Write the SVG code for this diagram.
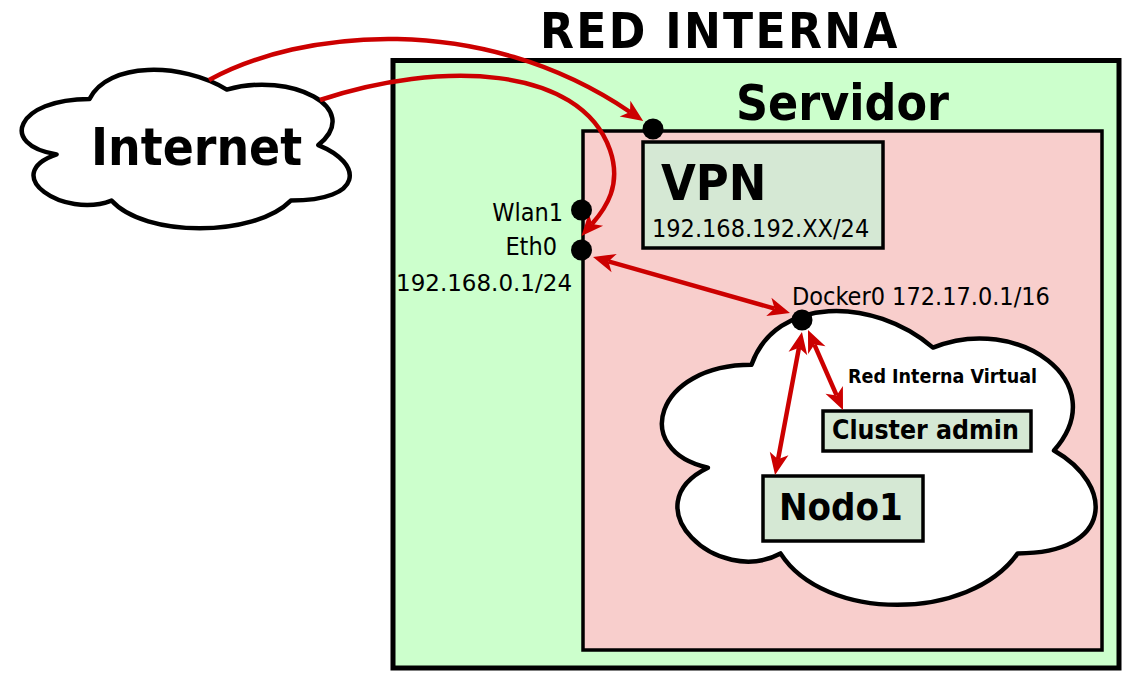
<svg xmlns="http://www.w3.org/2000/svg" width="1125" height="674" viewBox="0 0 1125 674">
<defs>
<style>
.b{font-family:"DejaVu Sans Condensed","DejaVu Sans",sans-serif;font-weight:bold;fill:#000}
.r{font-family:"DejaVu Sans Condensed","DejaVu Sans",sans-serif;fill:#000}
.box{fill:#D5E8D4;stroke:#000;stroke-width:3.5}
.cloud{fill:#fff;stroke:#000;stroke-width:4.5;stroke-linejoin:round}
.con{fill:none;stroke:#CC0000;stroke-width:4.5}
.dot{fill:#000}
</style>
<marker id="ah" viewBox="-1 -11 25 22" markerUnits="userSpaceOnUse" markerWidth="25" markerHeight="22" refX="6" refY="0" orient="auto-start-reverse">
<path d="M0,-9.5 L22,0 L0,9.5 L6,0 Z" fill="#CC0000"/>
</marker>
</defs>
<rect width="1125" height="674" fill="#fff"/>
<g id="servidor">
<rect x="393" y="60.5" width="726" height="607.5" fill="#CCFFCC" stroke="#000" stroke-width="5"/>
<text class="b" x="736" y="120" font-size="49.5">Servidor</text>
</g>
<g id="title">
<text class="b" x="540" y="48" font-size="49" letter-spacing="2.3">RED INTERNA</text>
</g>
<g id="host">
<rect x="583" y="131" width="519" height="519" fill="#F8CECC" stroke="#000" stroke-width="3.5"/>
</g>
<g id="internet">
<path class="cloud" d="M 89.5 98.9 C 16.3 98.9, -2 145.1, 56.6 154.4 C -2 174.7, 63.9 219.1, 111.5 200.6 C 144.4 237.6, 254.2 237.6, 290.8 200.6 C 364 200.6, 364 163.6, 318.3 145.1 C 364 108.1, 290.8 71.1, 226.8 89.6 C 181 61.9, 107.8 61.9, 89.5 98.9 Z"/>
<text class="b" x="91" y="165" font-size="51">Internet</text>
</g>
<g id="vpn">
<rect class="box" x="643" y="142" width="240" height="106"/>
<text class="b" x="661" y="200" font-size="50">VPN</text>
<text class="r" x="652" y="237" font-size="25">192.168.192.XX/24</text>
</g>
<g id="red-virtual">
<path class="cloud" d="M 751.5 364.75 C 654.7 364.75, 630.5 450.5, 707.9 467.7 C 630.5 505.4, 717.6 587.7, 780.5 553.4 C 824.1 622, 969.3 622, 1017.7 553.4 C 1114.5 553.4, 1114.5 484.8, 1054 450.5 C 1114.5 381.9, 1017.7 313.3, 933 347.6 C 872.5 296.2, 775.7 296.2, 751.5 364.75 Z"/>
<text class="b" x="848" y="383" font-size="19.5">Red Interna Virtual</text>
</g>
<g id="cluster-admin">
<rect class="box" x="823" y="411" width="208" height="40"/>
<text class="b" x="832" y="439" font-size="26.4">Cluster admin</text>
</g>
<g id="nodo1">
<rect class="box" x="763" y="476" width="160" height="65"/>
<text class="b" x="779" y="520" font-size="38">Nodo1</text>
</g>
<g id="interfaces">
<text class="r" x="563" y="221" font-size="25" text-anchor="end">Wlan1</text>
<text class="r" x="557" y="255" font-size="25" text-anchor="end">Eth0</text>
<text x="396" y="291" font-size="23" font-family="DejaVu Sans, sans-serif">192.168.0.1/24</text>
<text class="r" x="792" y="305" font-size="25">Docker0 172.17.0.1/16</text>
</g>
<g id="connectors">
<path class="con" d="M 209 80 C 300 30, 480 10, 630 112" marker-end="url(#ah)"/>
<path class="con" d="M 320 100 C 440 60, 580 65, 610 150 C 622 185, 606 208, 592 224" marker-end="url(#ah)"/>
<path class="con" d="M 608.4 261.4 L 774.6 308.6" marker-start="url(#ah)" marker-end="url(#ah)"/>
<path class="con" d="M 799 347.7 L 778 459.3" marker-start="url(#ah)" marker-end="url(#ah)"/>
<path class="con" d="M 814.4 344.6 L 836.6 395.4" marker-start="url(#ah)" marker-end="url(#ah)"/>
</g>
<g id="ports">
<circle class="dot" cx="653" cy="129" r="10.5"/>
<circle class="dot" cx="581.5" cy="210" r="10.5"/>
<circle class="dot" cx="581.5" cy="250" r="10.5"/>
<circle class="dot" cx="802" cy="320" r="10.5"/>
</g>
</svg>
